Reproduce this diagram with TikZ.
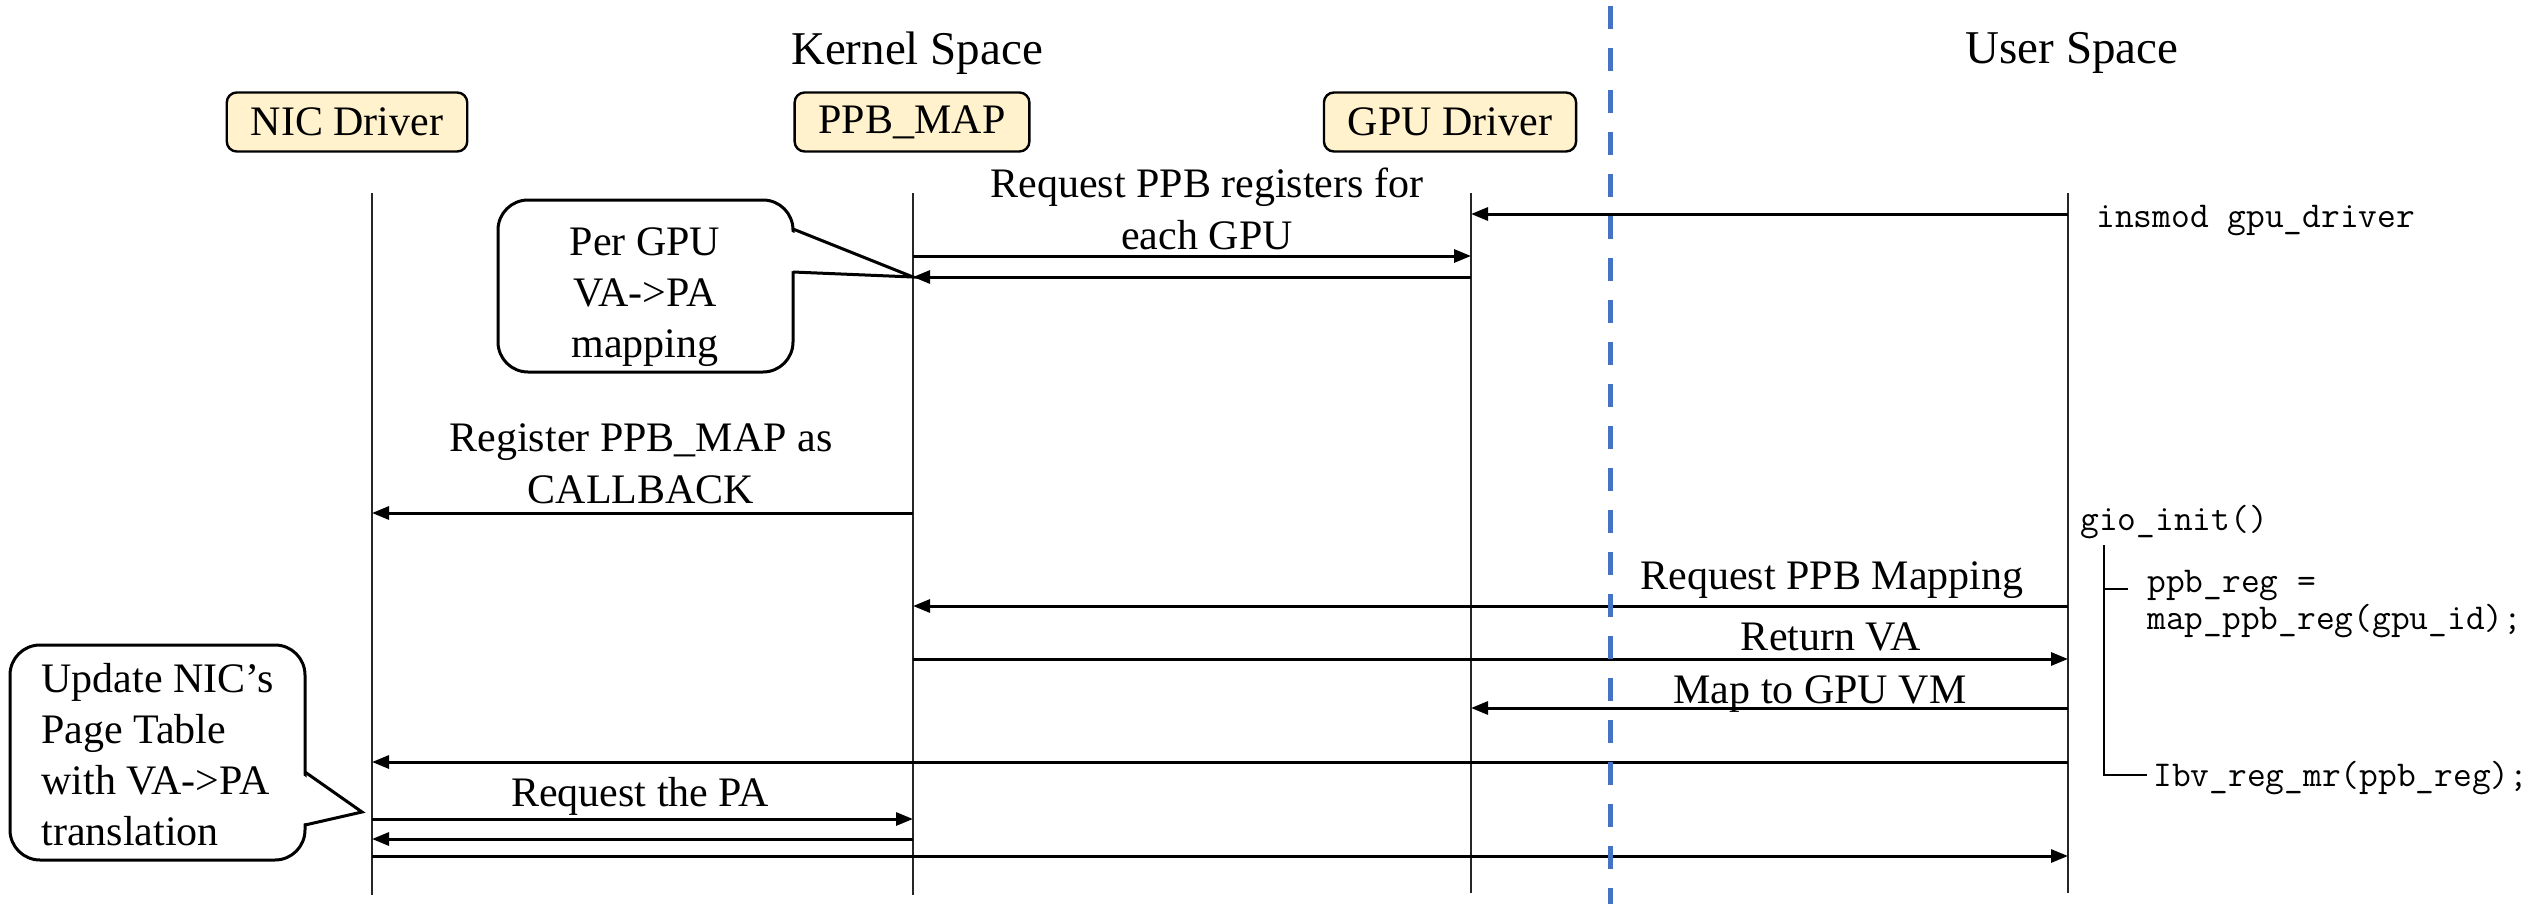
\documentclass[tikz,border=0pt]{standalone}
\usepackage{fontspec}
\setmainfont{Liberation Serif}
\usetikzlibrary{arrows.meta,calc}
\definecolor{boxfill}{HTML}{FFF2CC}
\definecolor{divblue}{HTML}{4472C4}
\begin{document}
\begin{tikzpicture}[x=0.5pt,y=-0.5pt,
  actor/.style={draw=black, line width=1.2pt, fill=boxfill, rounded corners=5pt,
    font=\fontsize{21}{26}\selectfont, inner xsep=12pt, inner ysep=0pt, minimum height=29.5pt},
  life/.style={line width=0.7pt, draw=black!85},
  msg/.style={line width=1.5pt, -{Triangle[length=8.5pt,width=6.5pt]}},
  lbl/.style={font=\fontsize{21}{26}\selectfont, align=center, inner sep=0pt},
  head/.style={font=\fontsize{23.5}{28}\selectfont, inner sep=0pt},
  code/.style={font=\ttfamily\fontsize{18.2}{22}\selectfont, inner sep=0pt, anchor=base west},
  callout/.style={draw=black, line width=1.5pt, fill=white, rounded corners=15pt, inner sep=0pt},
  callouttext/.style={font=\fontsize{21}{25.5}\selectfont, inner sep=0pt},
  pointer/.style={draw=black, line width=1.5pt, line join=miter},
  brk/.style={line width=0.6pt},
  divider/.style={draw=divblue, line width=2.5pt, dash pattern=on 11.5pt off 9.5pt}
]
\useasboundingbox (0,0) rectangle (2542,904);

% headings
\node[head] (kernel) at (917,53) {Kernel Space};
\node[head] (user) at (2072,53) {User Space};

% actors
\node[actor] (nic) at (347,122) {NIC Driver};
\node[actor] (ppb) at (912,122) {PPB\_MAP};
\node[actor] (gpu) at (1450,122) {GPU Driver};

% lifelines
\coordinate (nicT) at (372,193); \coordinate (nicB) at (372,895);
\coordinate (ppbT) at (913,193); \coordinate (ppbB) at (913,895);
\coordinate (gpuT) at (1471,193); \coordinate (gpuB) at (1471,893);
\coordinate (usrT) at (2068,193); \coordinate (usrB) at (2068,893);
\draw[life] (nicT) -- (nicB);
\draw[life] (ppbT) -- (ppbB);
\draw[life] (gpuT) -- (gpuB);
\draw[life] (usrT) -- (usrB);

% message rows
\coordinate (r1) at (0,214);
\coordinate (r2) at (0,256);
\coordinate (r3) at (0,277);
\coordinate (r4) at (0,513);
\coordinate (r5) at (0,606);
\coordinate (r6) at (0,659);
\coordinate (r7) at (0,708);
\coordinate (r8) at (0,762);
\coordinate (r9) at (0,819);
\coordinate (r10) at (0,839);
\coordinate (r11) at (0,856);

% messages
\draw[msg] (usrT |- r1) -- (gpuT |- r1);
\draw[msg] (ppbT |- r2) -- (gpuT |- r2);
\draw[msg] (gpuT |- r3) -- (ppbT |- r3);
\draw[msg] (ppbT |- r4) -- (nicT |- r4);
\draw[msg] (usrT |- r5) -- (ppbT |- r5);
\draw[msg] (ppbT |- r6) -- (usrT |- r6);
\draw[msg] (usrT |- r7) -- (gpuT |- r7);
\draw[msg] (usrT |- r8) -- (nicT |- r8);
\draw[msg] (nicT |- r9) -- (ppbT |- r9);
\draw[msg] (ppbT |- r10) -- (nicT |- r10);
\draw[msg] (nicT |- r11) -- (usrT |- r11);

% message labels
\node[lbl] (l2) at (1207,209) {Request PPB registers for\\each GPU};
\node[lbl] (l4) at (641,464) {Register PPB\_MAP as\\CALLBACK};
\node[lbl] (l5) at (1832,580) {Request PPB Mapping};
\node[lbl] (l6) at (1831,637) {Return VA};
\node[lbl] (l7) at (1820,694) {Map to GPU VM};
\node[lbl] (l9) at (640,796) {Request the PA};

% callout 1
\node[callout, minimum width=147.5pt, minimum height=86pt] (c1) at (645.5,286) {};
\node[callouttext, align=center] (c1t) at (645,297) {Per GPU\\VA->PA\\mapping};
\coordinate (c1a) at (793,229);
\coordinate (c1b) at (793,272);
\coordinate (c1tip) at (ppbT |- r3);
\fill[white] ($(c1a)+(-4,2)$) -- (c1tip) -- ($(c1b)+(-4,-1)$) -- cycle;
\draw[pointer] (c1a) -- (c1tip) -- (c1b);

% callout 2
\node[callout, minimum width=147.5pt, minimum height=107.5pt] (c2) at (157.5,752.5) {};
\node[callouttext, align=left] (c2t) at (157.5,755) {Update NIC’s\\Page Table\\with VA->PA\\translation};
\coordinate (c2a) at (305,772);
\coordinate (c2b) at (305,825);
\coordinate (c2tip) at (362,812);
\fill[white] ($(c2a)+(-4,2)$) -- (c2tip) -- ($(c2b)+(-4,-1)$) -- cycle;
\draw[pointer] (c2a) -- (c2tip) -- (c2b);

% user space code
\node[code] (insmod) at (2096,227) {insmod gpu\_driver};
\node[code] (gio) at (2080,530) {gio\_init()};
\node[code] (ppbreg) at (2147,592) {ppb\_reg =};
\node[code] (mapreg) at (2147,629) {map\_ppb\_reg(gpu\_id);};
\node[code] (ibv) at (2153,786) {Ibv\_reg\_mr(ppb\_reg);};
\coordinate (brT) at (2104,545);
\coordinate (brB) at (2104,775);
\coordinate (brE) at (2147,775);
\coordinate (brM) at (2104,589);
\coordinate (brN) at (2128,589);
\draw[brk] (brT) -- (brB) -- (brE);
\draw[brk] (brM) -- (brN);

% kernel / user divider
\coordinate (divT) at (1610,6);
\coordinate (divB) at (1610,904);
\draw[divider] (divT) -- (divB);
\end{tikzpicture}
\end{document}
